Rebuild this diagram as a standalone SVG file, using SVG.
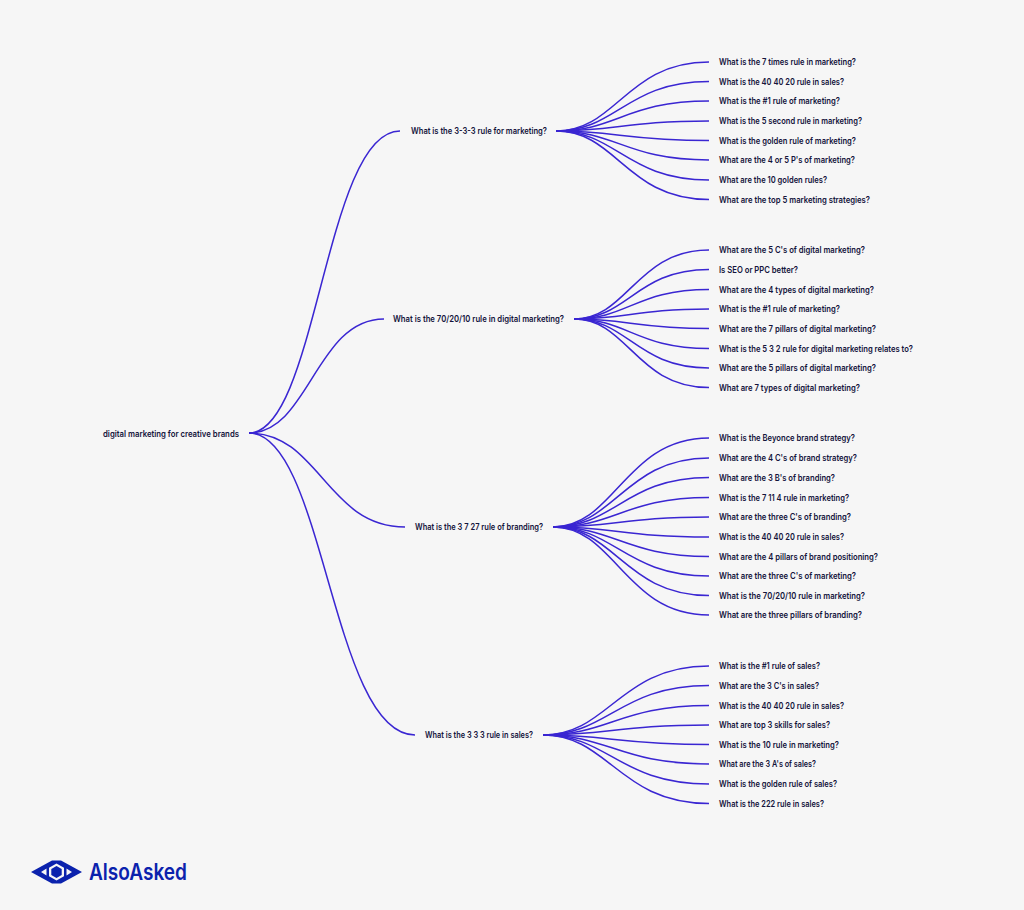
<svg xmlns="http://www.w3.org/2000/svg" width="1024" height="910" viewBox="0 0 1024 910">
<style>
.t{font-family:"Inter","Liberation Sans",sans-serif;font-size:8.9px;font-weight:600;fill:#14143c;dominant-baseline:central}
.c path{fill:none;stroke:#3a26d2;stroke-width:1.5}
</style>
<rect width="1024" height="910" fill="#f6f6f6"/>
<g id="connectors" class="c">
<path d="M249 433C317 433 325 131 400 131"/>
<path d="M249 433C309 433 316 319 384 319"/>
<path d="M249 433C319 433 327 527 405 527"/>
<path d="M249 433C324 433 332 735 415 735"/>
<path d="M556 131C617 131 626 62 709 62"/>
<path d="M556 131C617 131 626 81.500 709 81.500"/>
<path d="M556 131C617 131 626 101 709 101"/>
<path d="M556 131C617 131 626 121 709 121"/>
<path d="M556 131C617 131 626 140.500 709 140.500"/>
<path d="M556 131C617 131 626 160 709 160"/>
<path d="M556 131C617 131 626 180 709 180"/>
<path d="M556 131C617 131 626 199.500 709 199.500"/>
<path d="M574 319C628 319 636 250 709 250"/>
<path d="M574 319C628 319 636 269.500 709 269.500"/>
<path d="M574 319C628 319 636 289.500 709 289.500"/>
<path d="M574 319C628 319 636 309 709 309"/>
<path d="M574 319C628 319 636 328.500 709 328.500"/>
<path d="M574 319C628 319 636 348.500 709 348.500"/>
<path d="M574 319C628 319 636 368 709 368"/>
<path d="M574 319C628 319 636 387.500 709 387.500"/>
<path d="M553 527C615 527 625 438 709 438"/>
<path d="M553 527C615 527 625 458 709 458"/>
<path d="M553 527C615 527 625 477.500 709 477.500"/>
<path d="M553 527C615 527 625 497.500 709 497.500"/>
<path d="M553 527C615 527 625 517 709 517"/>
<path d="M553 527C615 527 625 537 709 537"/>
<path d="M553 527C615 527 625 556.500 709 556.500"/>
<path d="M553 527C615 527 625 576 709 576"/>
<path d="M553 527C615 527 625 595.500 709 595.500"/>
<path d="M553 527C615 527 625 615 709 615"/>
<path d="M543 735C609 735 619 666 709 666"/>
<path d="M543 735C609 735 619 685.500 709 685.500"/>
<path d="M543 735C609 735 619 705.500 709 705.500"/>
<path d="M543 735C609 735 619 725 709 725"/>
<path d="M543 735C609 735 619 744.500 709 744.500"/>
<path d="M543 735C609 735 619 764 709 764"/>
<path d="M543 735C609 735 619 784 709 784"/>
<path d="M543 735C609 735 619 803.500 709 803.500"/>
</g>
<g id="root"><text class="t" x="103" y="433" textLength="136" lengthAdjust="spacingAndGlyphs">digital marketing for creative brands</text></g>
<g id="q1"><text class="t" x="411" y="130.500" textLength="136" lengthAdjust="spacingAndGlyphs">What is the 3-3-3 rule for marketing?</text></g>
<g id="q2"><text class="t" x="393" y="318.500" textLength="171" lengthAdjust="spacingAndGlyphs">What is the 70/20/10 rule in digital marketing?</text></g>
<g id="q3"><text class="t" x="415" y="526.500" textLength="128" lengthAdjust="spacingAndGlyphs">What is the 3 7 27 rule of branding?</text></g>
<g id="q4"><text class="t" x="425" y="734.500" textLength="108" lengthAdjust="spacingAndGlyphs">What is the 3 3 3 rule in sales?</text></g>
<g id="leaves1">
<text class="t" x="719" y="61.500" textLength="137" lengthAdjust="spacingAndGlyphs">What is the 7 times rule in marketing?</text>
<text class="t" x="719" y="81" textLength="125" lengthAdjust="spacingAndGlyphs">What is the 40 40 20 rule in sales?</text>
<text class="t" x="719" y="100.500" textLength="121" lengthAdjust="spacingAndGlyphs">What is the #1 rule of marketing?</text>
<text class="t" x="719" y="120.500" textLength="143" lengthAdjust="spacingAndGlyphs">What is the 5 second rule in marketing?</text>
<text class="t" x="719" y="140" textLength="137" lengthAdjust="spacingAndGlyphs">What is the golden rule of marketing?</text>
<text class="t" x="719" y="159.500" textLength="136" lengthAdjust="spacingAndGlyphs">What are the 4 or 5 P's of marketing?</text>
<text class="t" x="719" y="179.500" textLength="108" lengthAdjust="spacingAndGlyphs">What are the 10 golden rules?</text>
<text class="t" x="719" y="199" textLength="151" lengthAdjust="spacingAndGlyphs">What are the top 5 marketing strategies?</text>
</g>
<g id="leaves2">
<text class="t" x="719" y="249.500" textLength="146" lengthAdjust="spacingAndGlyphs">What are the 5 C's of digital marketing?</text>
<text class="t" x="719" y="269" textLength="79" lengthAdjust="spacingAndGlyphs">Is SEO or PPC better?</text>
<text class="t" x="719" y="289" textLength="155" lengthAdjust="spacingAndGlyphs">What are the 4 types of digital marketing?</text>
<text class="t" x="719" y="308.500" textLength="121" lengthAdjust="spacingAndGlyphs">What is the #1 rule of marketing?</text>
<text class="t" x="719" y="328" textLength="157" lengthAdjust="spacingAndGlyphs">What are the 7 pillars of digital marketing?</text>
<text class="t" x="719" y="348" textLength="194" lengthAdjust="spacingAndGlyphs">What is the 5 3 2 rule for digital marketing relates to?</text>
<text class="t" x="719" y="367.500" textLength="157" lengthAdjust="spacingAndGlyphs">What are the 5 pillars of digital marketing?</text>
<text class="t" x="719" y="387" textLength="141" lengthAdjust="spacingAndGlyphs">What are 7 types of digital marketing?</text>
</g>
<g id="leaves3">
<text class="t" x="719" y="437.500" textLength="136" lengthAdjust="spacingAndGlyphs">What is the Beyonce brand strategy?</text>
<text class="t" x="719" y="457.500" textLength="138" lengthAdjust="spacingAndGlyphs">What are the 4 C's of brand strategy?</text>
<text class="t" x="719" y="477" textLength="116" lengthAdjust="spacingAndGlyphs">What are the 3 B's of branding?</text>
<text class="t" x="719" y="497" textLength="130" lengthAdjust="spacingAndGlyphs">What is the 7 11 4 rule in marketing?</text>
<text class="t" x="719" y="516.500" textLength="132" lengthAdjust="spacingAndGlyphs">What are the three C's of branding?</text>
<text class="t" x="719" y="536.500" textLength="125" lengthAdjust="spacingAndGlyphs">What is the 40 40 20 rule in sales?</text>
<text class="t" x="719" y="556" textLength="159" lengthAdjust="spacingAndGlyphs">What are the 4 pillars of brand positioning?</text>
<text class="t" x="719" y="575.500" textLength="137" lengthAdjust="spacingAndGlyphs">What are the three C's of marketing?</text>
<text class="t" x="719" y="595" textLength="146" lengthAdjust="spacingAndGlyphs">What is the 70/20/10 rule in marketing?</text>
<text class="t" x="719" y="614.500" textLength="143" lengthAdjust="spacingAndGlyphs">What are the three pillars of branding?</text>
</g>
<g id="leaves4">
<text class="t" x="719" y="665.500" textLength="101" lengthAdjust="spacingAndGlyphs">What is the #1 rule of sales?</text>
<text class="t" x="719" y="685" textLength="100" lengthAdjust="spacingAndGlyphs">What are the 3 C's in sales?</text>
<text class="t" x="719" y="705" textLength="125" lengthAdjust="spacingAndGlyphs">What is the 40 40 20 rule in sales?</text>
<text class="t" x="719" y="724.500" textLength="111" lengthAdjust="spacingAndGlyphs">What are top 3 skills for sales?</text>
<text class="t" x="719" y="744" textLength="120" lengthAdjust="spacingAndGlyphs">What is the 10 rule in marketing?</text>
<text class="t" x="719" y="763.500" textLength="97" lengthAdjust="spacingAndGlyphs">What are the 3 A's of sales?</text>
<text class="t" x="719" y="783.500" textLength="118" lengthAdjust="spacingAndGlyphs">What is the golden rule of sales?</text>
<text class="t" x="719" y="803" textLength="105" lengthAdjust="spacingAndGlyphs">What is the 222 rule in sales?</text>
</g>
<g id="logo">
<path fill="#0b22ad" fill-rule="evenodd" d="M31 872L52 860.500H61L82 872L61 883.500H52ZM41 872L46.500 875.500V868.500ZM72 872L66.500 868.500V875.500ZM56.500 863.500L49 867.750V876.250L56.500 880.500L64 876.250V867.750Z"/>
<path fill="#0b22ad" d="M56.500 866L61.700 869V875L56.500 878L51.300 875V869Z"/>
<text x="89" y="880" font-family="Inter,'Liberation Sans',sans-serif" font-size="22.500" font-weight="600" fill="#0b22ad" textLength="98" lengthAdjust="spacingAndGlyphs">AlsoAsked</text>
</g>
</svg>
